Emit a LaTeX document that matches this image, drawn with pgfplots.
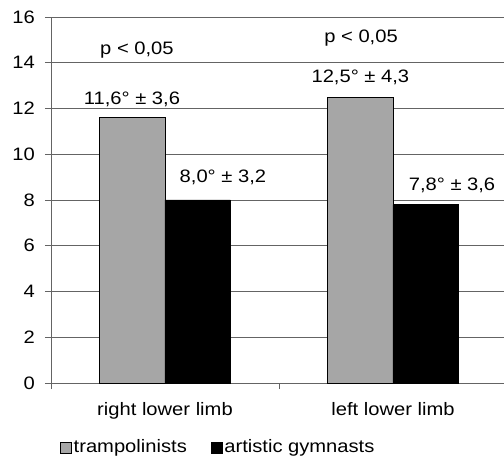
\documentclass[border=0pt]{standalone}
\usepackage{fontspec}
\setmainfont[FakeStretch=1.12]{Liberation Sans}
\usepackage{pgfplots}
\pgfplotsset{compat=1.18}
\definecolor{barGray}{RGB}{166,166,166}
\definecolor{gridGray}{RGB}{100,100,100}
\begin{document}
\fontsize{18bp}{21bp}\selectfont
\begin{tikzpicture}
\begin{axis}[
  at={(0,0)}, anchor=south west,
  scale only axis,
  width=453bp, height=366bp,
  xmin=-0.5, xmax=1.487,
  ymin=0, ymax=16,
  ytick={0,2,...,16},
  xtick={0,1},
  xticklabels={right lower limb, left lower limb},
  extra x ticks={-0.5,0.5},
  extra x tick labels={},
  extra x tick style={grid=none, x tick style={draw=gridGray}},
  axis x line*=bottom,
  axis y line*=left,
  axis line style={gridGray, line width=0.8pt},
  tick style={gridGray, line width=0.8pt},
  major tick length=6bp,
  tick align=outside,
  x tick style={draw=none},
  ymajorgrids,
  major grid style={gridGray, line width=0.8pt},
  /pgf/number format/assume math mode=true,
  yticklabel style={xshift=-4bp},
  xticklabel style={yshift=-7bp},
  ybar=0pt,
  bar width=0.287,
  legend style={at={(0.0199,-0.177)}, anchor=west, draw=none, inner sep=0pt,
    legend columns=2, column sep=0pt, /tikz/every even column/.append style={column sep=22bp}},
  legend cell align=left,
  legend image code/.code={\draw[#1,line width=0.5pt] (0bp,-5.5bp) rectangle (11bp,5.5bp);},
]
\addplot[fill=barGray, draw=black, line width=0.6pt] coordinates {(0,11.6) (1,12.5)};
\addplot[fill=black, draw=black, line width=0.6pt] coordinates {(0,8.0) (1,7.8)};
\legend{trampolinists, artistic gymnasts}
\node at (axis cs:-0.123,14.55) {p < 0,05};
\node at (axis cs:0.86,15.1) {p < 0,05};
\node at (axis cs:-0.145,12.4) {11,6° ± 3,6};
\node at (axis cs:0.857,13.35) {12,5° ± 4,3};
\node at (axis cs:0.254,9.0) {8,0° ± 3,2};
\node at (axis cs:1.259,8.66) {7,8° ± 3,6};
\end{axis}
\pgfresetboundingbox
\path (-51bp,-78bp) rectangle (453bp,383bp);
\end{tikzpicture}
\end{document}
